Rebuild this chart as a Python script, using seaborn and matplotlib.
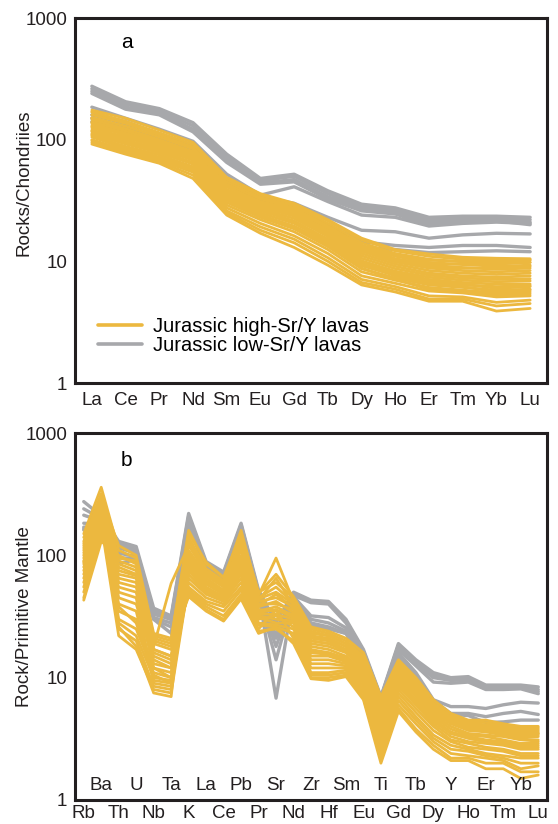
import matplotlib
matplotlib.use("Agg")
import matplotlib.pyplot as plt
import matplotlib.transforms as mtransforms
from matplotlib.lines import Line2D
from matplotlib.ticker import NullLocator
import pandas as pd
import seaborn as sns

sns.set_style("white")
plt.rcParams["font.family"] = ["Liberation Sans", "DejaVu Sans"]

# ---------------- data ----------------
ree_elements = ["La", "Ce", "Pr", "Nd", "Sm", "Eu", "Gd", "Tb", "Dy", "Ho", "Er", "Tm", "Yb", "Lu"]

ree_high = [
    [175, 150, 120, 95, 49, 36, 30, 22, 15.5, 12.5, 11.5, 10.8, 10.6, 10.5],
    [168, 142, 114, 91, 47, 35, 29.5, 21.5, 15, 12.2, 11, 10.4, 10.2, 10.3],
    [160, 136, 109, 87, 45, 33.5, 28.5, 20.5, 14.2, 11.6, 10.4, 9.9, 9.6, 9.8],
    [152, 129, 105, 84, 43, 32.5, 27.5, 19.5, 13.3, 11, 9.8, 9.4, 9.1, 9.3],
    [146, 123, 100, 80, 41, 31, 26.5, 18.8, 12.7, 10.4, 9.3, 8.9, 8.6, 8.8],
    [140, 118, 96, 77, 39, 30, 25.5, 18, 12.1, 9.9, 8.8, 8.4, 8.2, 8.4],
    [135, 113, 92, 74, 37.5, 29, 24.5, 17.2, 11.6, 9.5, 8.4, 8, 7.8, 8],
    [130, 110, 90, 72, 36.5, 28, 23.5, 16.6, 11.1, 9.1, 8, 7.6, 7.4, 7.6],
    [125, 105, 86, 70, 35, 27, 22.5, 16, 10.6, 8.7, 7.7, 7.3, 7.1, 7.2],
    [120, 100, 83, 68, 34, 26, 21.5, 15.2, 10.1, 8.3, 7.4, 7, 6.8, 6.9],
    [116, 96, 80, 65, 33, 25, 20.5, 14.6, 9.6, 8, 7.1, 6.7, 6.5, 6.5],
    [112, 92, 78, 63, 32, 24, 19.5, 14, 9.2, 7.7, 6.8, 6.4, 6.2, 6.3],
    [108, 88, 75, 60, 30.5, 23, 18.5, 13.2, 8.7, 7.3, 6.4, 6.1, 5.8, 5.9],
    [105, 85, 72, 58, 29, 22, 17.5, 12.5, 8.2, 7, 6.1, 5.8, 5.5, 5.6],
    [100, 82, 70, 56, 27.5, 20.5, 16.2, 11.6, 7.6, 6.6, 5.7, 5.5, 5.1, 5.2],
    [98, 80, 68, 54, 26, 19.2, 15.2, 10.7, 7.1, 6.2, 5.2, 5.1, 4.6, 4.8],
    [95, 78, 66, 51, 25, 18, 14.2, 10, 6.7, 5.9, 4.9, 4.9, 4.3, 4.5],
    [92, 76, 64, 48, 24, 17, 13, 9.3, 6.4, 5.6, 4.7, 4.7, 3.9, 4.1],
    [170, 140, 110, 85, 42, 30, 24, 16, 10, 8, 7, 6.5, 6, 6.2],
    [110, 95, 82, 70, 38, 30, 26, 19, 13, 10.5, 9.5, 9.5, 9.5, 9.8],
    [150, 118, 98, 78, 37, 27, 21, 14.5, 9.4, 7.6, 6.6, 6.2, 5.6, 5.8],
    [128, 112, 94, 78, 41, 31, 27, 19.5, 13.6, 11.2, 10.2, 10, 9.9, 10.2],
    [138, 108, 88, 68, 32, 24, 19, 13.5, 8.8, 7.1, 5.9, 5.6, 5.3, 5.4],
    [118, 104, 88, 73, 38, 29, 25, 18, 12.4, 10, 9, 8.8, 8.8, 9.1],
]

ree_low = [
    [275, 205, 180, 138, 76, 48, 52, 38, 29.5, 27.5, 23, 23.5, 23.5, 23],
    [262, 195, 172, 130, 72, 46, 50, 36, 28, 26.5, 22, 22.5, 22.5, 22],
    [250, 185, 165, 122, 68, 44, 47, 34, 27, 25.5, 21, 22, 22, 21],
    [240, 178, 160, 116, 65, 43, 45, 32.5, 26, 24.5, 20, 21.5, 21.5, 20],
    [185, 150, 122, 97, 52, 35, 41, 31, 24, 23, 19.5, 20.5, 21, 20.5],
    [160, 135, 112, 90, 48, 34, 30, 23, 18, 17.5, 15.5, 16.5, 17, 16.8],
    [150, 125, 105, 85, 45, 32, 28, 20, 14.5, 13.5, 13, 13.5, 13.5, 13],
    [140, 118, 100, 82, 43, 31, 26, 19, 13, 12.5, 11.8, 12, 12.2, 12],
]

pm_elements = ["Rb", "Ba", "Th", "U", "Nb", "Ta", "K", "La", "Ce", "Pb", "Pr", "Sr", "Nd", "Zr",
               "Hf", "Sm", "Eu", "Ti", "Gd", "Tb", "Dy", "Y", "Ho", "Er", "Tm", "Yb", "Lu"]

pm_high = [
    [150, 360, 110, 95, 22, 20, 160, 85, 66, 150, 50, 60, 45, 25, 23, 20, 15, 6.5, 13.5, 9.5, 6.5, 5.0, 4.4, 4.3, 4.1, 3.9, 3.9],
    [130, 320, 95, 90, 20, 18, 140, 78, 62, 160, 47, 95, 42, 24, 22, 19, 14.5, 6, 13, 9, 6.2, 4.8, 4.3, 4.1, 4.0, 3.8, 3.8],
    [120, 280, 80, 70, 18, 59, 120, 72, 58, 120, 44, 50, 40, 22, 21, 18, 14, 5.5, 12, 8.5, 5.8, 4.6, 4.1, 4.0, 3.8, 3.6, 3.6],
    [110, 260, 60, 55, 16, 14, 110, 68, 55, 110, 42, 45, 38, 21, 20, 17, 13, 5, 11.5, 8, 5.5, 4.4, 3.9, 3.8, 3.6, 3.4, 3.5],
    [100, 250, 45, 40, 14, 12, 100, 65, 52, 100, 40, 40, 36, 20, 19, 16.5, 12, 4.5, 11, 7.5, 5.2, 4.2, 3.7, 3.6, 3.4, 3.2, 3.3],
    [95, 240, 35, 30, 12, 11, 90, 60, 50, 90, 38, 42, 34, 19, 18, 16, 11.5, 4.2, 10.5, 7.2, 5.0, 4.0, 3.5, 3.4, 3.3, 3.1, 3.1],
    [90, 230, 30, 25, 11, 10, 85, 58, 48, 85, 36, 35, 33, 18, 17, 15, 11, 4.0, 10, 7, 4.8, 3.8, 3.4, 3.3, 3.1, 2.9, 3.0],
    [85, 220, 28, 22, 10, 9.5, 80, 55, 46, 80, 35, 38, 32, 17, 16, 14.5, 10.5, 3.8, 9.5, 6.6, 4.6, 3.6, 3.3, 3.1, 3.0, 2.8, 2.9],
    [80, 210, 40, 35, 9.5, 9, 75, 52, 45, 75, 33, 33, 30, 16, 15.5, 14, 10, 3.6, 9, 6.3, 4.4, 3.5, 3.2, 3.0, 2.9, 2.7, 2.7],
    [75, 200, 50, 45, 9, 8.5, 70, 50, 43, 70, 32, 30, 29, 15, 15, 13.5, 9.5, 3.4, 8.5, 6, 4.2, 3.3, 3.0, 2.9, 2.8, 2.6, 2.6],
    [70, 190, 25, 20, 8.5, 8, 65, 48, 42, 65, 31, 28, 28, 14, 14, 13, 9, 3.2, 8, 5.6, 4.0, 3.1, 2.9, 2.7, 2.6, 2.4, 2.4],
    [65, 180, 22, 17, 8, 7.5, 60, 45, 40, 60, 30, 32, 26, 13, 13, 12.5, 8.5, 3.0, 7.5, 5.2, 3.7, 3.0, 2.7, 2.6, 2.5, 2.3, 2.3],
    [60, 170, 55, 50, 12, 10, 55, 42, 38, 55, 28, 27, 25, 12, 12, 12, 8, 2.8, 7, 4.8, 3.4, 2.8, 2.6, 2.4, 2.3, 2.2, 2.2],
    [55, 160, 65, 60, 15, 13, 52, 40, 35, 52, 27, 26, 23, 11, 11, 11.5, 7.5, 2.6, 6.5, 4.5, 3.2, 2.6, 2.5, 2.3, 2.2, 2.0, 2.0],
    [50, 150, 70, 65, 17, 15, 50, 38, 32, 48, 25, 36, 21, 10.5, 10.5, 11, 7, 2.4, 6, 4.2, 3.0, 2.4, 2.3, 2.2, 2.1, 1.8, 1.9],
    [45, 140, 85, 75, 19, 17, 48, 36, 30, 45, 24, 25, 20, 10, 10, 10.5, 6.8, 2.2, 5.6, 3.8, 2.8, 2.2, 2.2, 2.0, 2.0, 1.7, 1.7],
    [43, 130, 100, 85, 21, 19, 46, 35, 29, 44, 23, 26, 19, 9.8, 9.5, 10.2, 6.6, 2.0, 5.3, 3.6, 2.6, 2.1, 2.1, 1.8, 1.8, 1.5, 1.6],
    [140, 300, 120, 100, 23, 21, 150, 88, 66, 140, 49, 70, 46, 26, 24, 21, 16, 7, 14, 10, 6.6, 5.1, 4.5, 4.5, 4.2, 4.0, 4.0],
    [115, 270, 26, 18, 7.5, 7, 130, 75, 60, 130, 45, 55, 41, 23, 22, 19, 14, 5.8, 12.5, 8.8, 6.0, 4.7, 4.2, 4.1, 3.9, 3.7, 3.7],
    [105, 240, 75, 68, 13, 12, 95, 62, 50, 95, 39, 48, 37, 20, 19, 17, 12.5, 4.8, 11, 7.8, 5.4, 4.3, 3.8, 3.7, 3.5, 3.3, 3.4],
    [125, 290, 90, 80, 17, 15, 105, 70, 56, 115, 43, 65, 39, 21.5, 20.5, 18, 13.5, 5.2, 12, 8.2, 5.6, 4.5, 4.0, 3.9, 3.7, 3.5, 3.5],
    [88, 215, 38, 28, 10.5, 9, 78, 54, 44, 78, 34, 36, 31, 16.5, 16, 14, 10, 3.5, 9.2, 6.4, 4.5, 3.5, 3.2, 3.0, 2.9, 2.7, 2.8],
]

pm_low = [
    [275, 210, 130, 118, 37, 32, 220, 89, 73, 183, 52, 28, 50, 43, 42, 30, 17, 7.0, 19, 14, 11, 10, 10.2, 8.7, 8.7, 8.7, 8.4],
    [240, 200, 124, 112, 35, 31, 210, 86, 71, 178, 50, 22, 49, 42, 41, 29, 16.5, 6.9, 18.5, 13.5, 10.5, 9.8, 9.9, 8.4, 8.5, 8.5, 8.0],
    [213, 190, 121, 108, 34, 30, 195, 84, 69, 172, 49, 6.8, 47, 41, 40, 28, 16, 6.8, 18, 13, 10, 9.5, 9.6, 8.1, 8.3, 8.3, 7.7],
    [183, 180, 115, 104, 33, 30, 190, 82, 68, 165, 47, 14, 46, 32, 31, 25.5, 15.5, 6.7, 17, 12.5, 9.2, 9.0, 9.2, 8.0, 8.0, 8.1, 7.4],
    [170, 175, 104, 98, 31, 28, 185, 80, 66, 160, 46, 18, 45, 30, 28, 24, 15, 6.6, 16, 11, 6.6, 5.8, 5.8, 5.6, 6.0, 6.3, 6.2],
    [161, 170, 95, 95, 30, 26, 183, 78, 64, 156, 45, 21, 44, 28, 26, 23, 14.5, 6.5, 15.5, 10.5, 6.5, 5.1, 5.1, 4.8, 5.1, 5.3, 5.0],
    [165, 172, 86, 92, 30, 23, 180, 76, 63, 150, 44, 25, 43, 27, 25, 23, 14, 6.4, 15, 10, 6.4, 5.0, 4.9, 4.3, 4.35, 4.5, 4.5],
]

legend_labels = ["Jurassic high-Sr/Y lavas", "Jurassic low-Sr/Y lavas"]
ylabels = ["Rocks/Chondriies", "Rock/Primitive Mantle"]
panel_letters = ["a", "b"]
ytick_values = [1, 10, 100, 1000]
ytick_labels = ["1", "10", "100", "1000"]

ORANGE = "#ECB83F"
GRAY = "#A7A8AB"
INK = "#231F20"
FS = 13.5


def to_long(rows, group):
    recs = []
    for s, row in enumerate(rows):
        for i, v in enumerate(row):
            recs.append({"sample": f"{group}{s}", "pos": i, "value": v})
    return pd.DataFrame(recs)


fig = plt.figure(figsize=(5.58, 8.24), dpi=100)
ax_a = fig.add_axes([75 / 558, 1 - 383 / 824, 472 / 558, 365 / 824])
ax_b = fig.add_axes([75 / 558, 1 - 800 / 824, 472 / 558, 367 / 824])


def draw(ax, low, high, n):
    ax.set_yscale("log")
    sns.lineplot(data=to_long(low, "low"), x="pos", y="value", units="sample", estimator=None,
                 sort=False, color=GRAY, lw=2.4, legend=False, ax=ax)
    sns.lineplot(data=to_long(high, "high"), x="pos", y="value", units="sample", estimator=None,
                 sort=False, color=ORANGE, lw=2.0, legend=False, ax=ax)
    ax.set_xlim(-0.5, n - 0.5)
    ax.set_ylim(1, 1000)
    ax.set_yticks(ytick_values)
    ax.set_yticklabels(ytick_labels)
    ax.yaxis.set_minor_locator(NullLocator())
    ax.set_xlabel("")
    for sp in ax.spines.values():
        sp.set_linewidth(2.2)
        sp.set_color(INK)
    ax.tick_params(axis="both", which="both", direction="in", length=3.5, width=1.3,
                   color=INK, labelsize=FS, labelcolor=INK)
    ax.tick_params(axis="y", pad=5.5)


draw(ax_a, ree_low, ree_high, len(ree_elements))
ax_a.set_xticks(range(len(ree_elements)))
ax_a.set_xticklabels(ree_elements)
ax_a.tick_params(axis="x", pad=6.5)

draw(ax_b, pm_low, pm_high, len(pm_elements))
ax_b.set_xticks(range(len(pm_elements)))
ax_b.set_xticklabels([e if i % 2 == 0 else "" for i, e in enumerate(pm_elements)])
ax_b.tick_params(axis="x", pad=3.6)
trans = mtransforms.blended_transform_factory(ax_b.transData, ax_b.transAxes)
for i, e in enumerate(pm_elements):
    if i % 2 == 1:
        ax_b.text(i, 0.027, e, transform=trans, ha="center", va="baseline",
                  fontsize=FS, color=INK)

for ax, lab, letter, ly, py in [(ax_a, ylabels[0], panel_letters[0], 0.548, 0.934),
                                (ax_b, ylabels[1], panel_letters[1], 0.5, 0.926)]:
    ax.set_ylabel(lab, fontsize=FS, color=INK)
    ax.yaxis.set_label_coords(-0.089, ly)
    ax.text(0.11, py, letter, transform=ax.transAxes, ha="center", va="center",
            fontsize=15, color="black")

handles = [Line2D([], [], color=ORANGE, lw=2.6), Line2D([], [], color=GRAY, lw=2.6)]
ax_a.legend(handles, legend_labels, loc="center left", bbox_to_anchor=(0.049, 0.128),
            frameon=False, borderpad=0, borderaxespad=0, handlelength=2.2,
            handletextpad=0.5, labelspacing=0.0, fontsize=14.5, labelcolor="black")

fig.savefig("out.png", dpi=100)
